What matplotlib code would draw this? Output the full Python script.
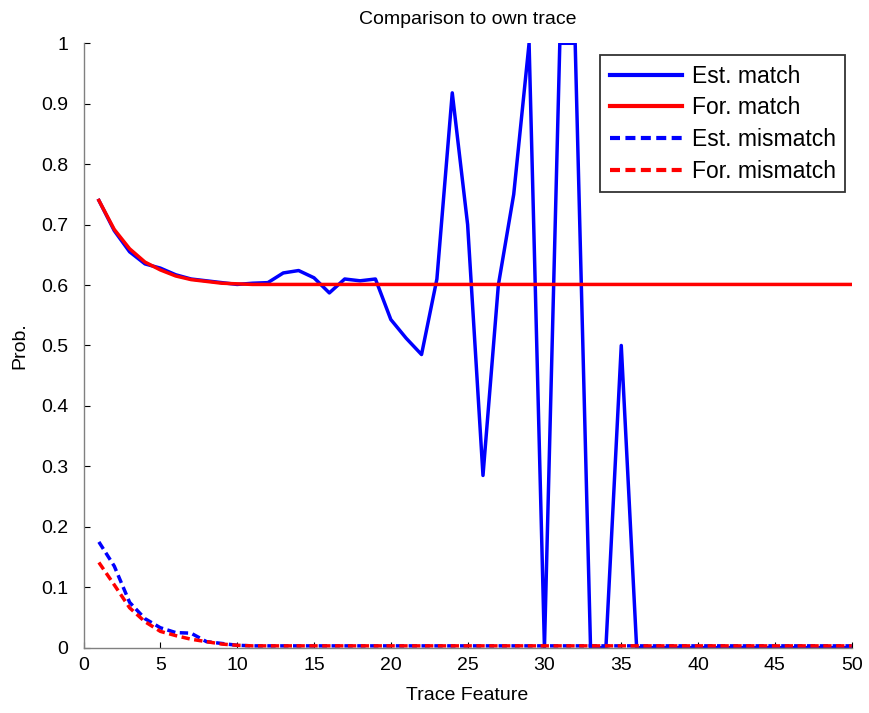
import numpy as np
import matplotlib
matplotlib.use('Agg')
import matplotlib.pyplot as plt

plt.rcParams['font.family'] = ['Liberation Sans', 'DejaVu Sans']

features = np.arange(1, 51)

est_match = [0.74, 0.69, 0.655, 0.635, 0.628, 0.617, 0.61, 0.607, 0.604, 0.601,
             0.603, 0.604, 0.62, 0.624, 0.612, 0.587, 0.61, 0.607, 0.61, 0.543,
             0.512, 0.485, 0.61, 0.918, 0.70, 0.285, 0.60, 0.75, 1.0, 0.0,
             1.0, 1.0, 0.0, 0.0, 0.5, 0.0] + [0.0] * 14

for_match = [0.74, 0.692, 0.66, 0.638, 0.625, 0.615, 0.609, 0.606, 0.603, 0.602] + [0.601] * 40

est_mismatch = [0.175, 0.135, 0.075, 0.048, 0.033, 0.025, 0.024, 0.01, 0.007, 0.004] + [0.003] * 40
for_mismatch = [0.141, 0.104, 0.066, 0.043, 0.027, 0.02, 0.014, 0.01, 0.006, 0.004] + [0.003] * 40

fig = plt.figure(figsize=(8.7, 7.13), dpi=100, facecolor='white')
axs = fig.add_axes([0.096, 0.0916, 0.883, 0.8477])

dash = (0, (2.4, 1.3))
axs.plot(features, est_match, color='#0000ff', lw=2.5, label='Est. match')
axs.plot(features, for_match, color='#ff0000', lw=2.5, label='For. match')
axs.plot(features, est_mismatch, color='#0000ff', lw=2.5, ls=dash, label='Est. mismatch')
axs.plot(features, for_mismatch, color='#ff0000', lw=2.5, ls=dash, label='For. mismatch')

axs.set_xlim(0, 50)
axs.set_ylim(0, 1)
axs.set_xticks(np.arange(0, 51, 5))
axs.set_yticks(np.arange(0, 1.01, 0.1))
axs.set_yticklabels(['0'] + ['%.1f' % v for v in np.arange(0.1, 0.95, 0.1)] + ['1'])

for side in ['top', 'right']:
    axs.spines[side].set_visible(False)
for side in ['left', 'bottom']:
    axs.spines[side].set_color('#808080')
    axs.spines[side].set_linewidth(1)
axs.tick_params(direction='in', length=4, labelsize=14, colors='black')
axs.tick_params(axis='y', pad=11)
axs.tick_params(axis='x', pad=7)

axs.set_title('Comparison to own trace', fontsize=14, pad=14)
axs.set_xlabel('Trace Feature', fontsize=14, labelpad=9)
axs.set_ylabel('Prob.', fontsize=14, labelpad=9)

leg = axs.legend(loc='upper right', bbox_to_anchor=(0.9915, 0.98), fontsize=16.5,
                 frameon=True, fancybox=False, edgecolor='black',
                 handlelength=3.15, handletextpad=0.45, borderpad=0.4,
                 labelspacing=0.38, borderaxespad=0)
leg.get_frame().set_linewidth(1.3)
for line in leg.get_lines():
    line.set_linewidth(3)

plt.savefig('out.png', dpi=100, facecolor='white')
plt.close()
